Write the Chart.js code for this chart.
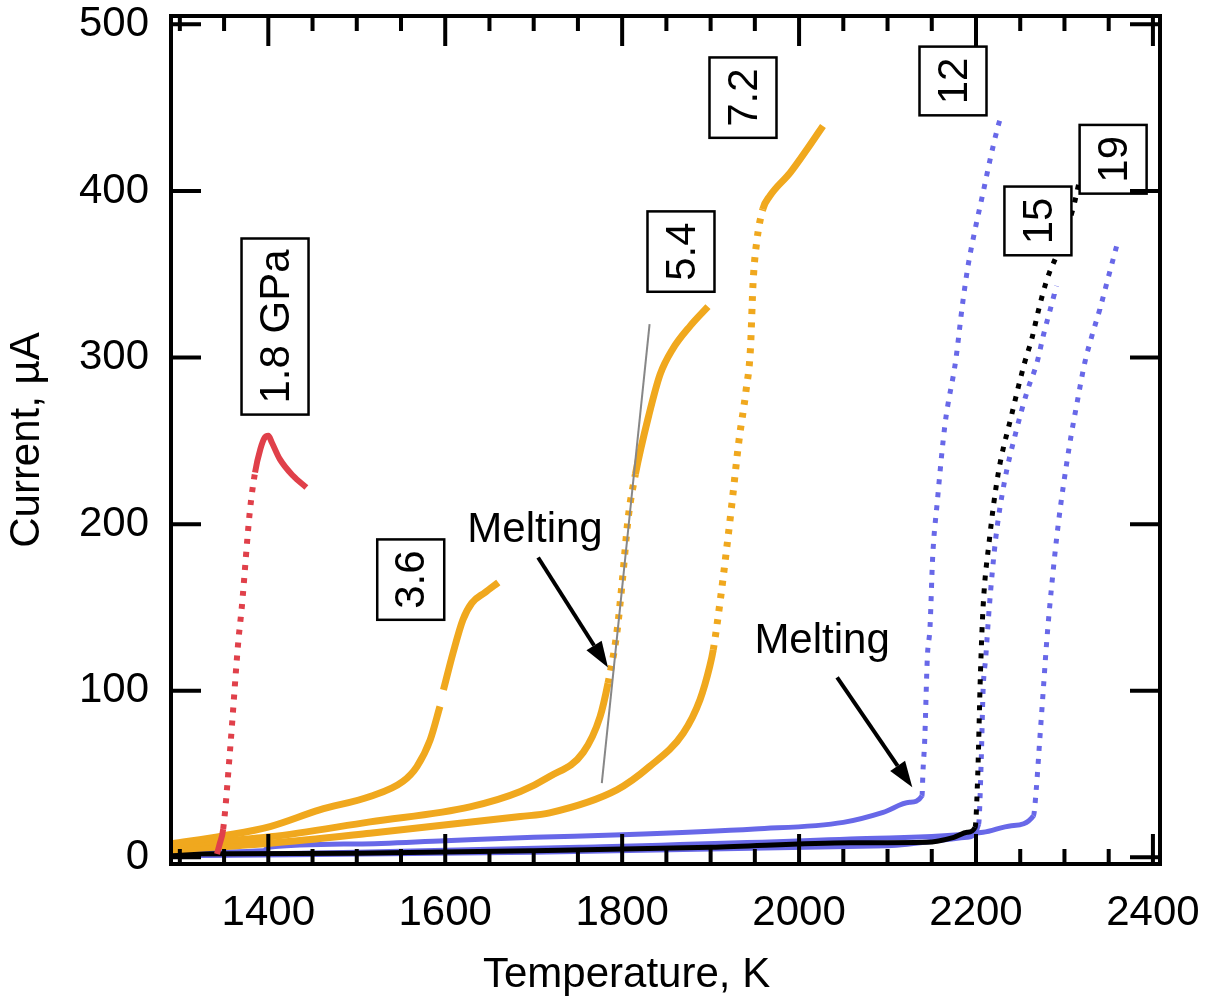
<!DOCTYPE html>
<html>
<head>
<meta charset="utf-8">
<script src="https://cdn.jsdelivr.net/npm/chart.js@4/dist/chart.umd.min.js"></script>
<style>
  html, body { margin: 0; padding: 0; background: #fff; }
  #wrap { width: 1207px; height: 1007px; }
</style>
</head>
<body>
<div id="wrap"><canvas id="myChart"></canvas></div>
<script>
const FONT = "'Liberation Sans', Arial, Helvetica, sans-serif";

// tick values
const xTicks = [1300, 1350, 1400, 1450, 1500, 1550, 1600, 1650, 1700, 1750, 1800, 1850,
                1900, 1950, 2000, 2050, 2100, 2150, 2200, 2250, 2300, 2350, 2400];
const xMajor = [1400, 1600, 1800, 2000, 2200, 2400];
const yTicks = [0, 100, 200, 300, 400, 500];

// 1.8 GPa
const redTemp = [1342, 1345, 1349, 1357, 1366, 1370, 1379, 1385, 1391, 1396, 1400, 1404, 1413, 1428, 1443];
const redCur  = [2, 8, 17, 66, 129, 150, 207, 231, 245, 252, 253, 249, 239, 229, 222];

// 3.6 GPa (small break near 1596 K)
const o36Temp = [1290, 1350, 1402, 1458, 1515, 1552, 1568, 1583, 1594, 1596, 1598, 1609, 1620, 1630, 1645, 1660];
const o36Cur  = [8, 13, 18.5, 28.5, 36.5, 45.5, 54.5, 70.5, 90.5, null, 100.5, 123, 142.6, 152.6, 159, 165];

// 5.4 GPa
const o54Temp = [1290, 1402, 1515, 1628, 1685, 1718, 1756, 1775, 1784, 1794, 1800, 1807, 1815, 1830, 1843, 1857, 1877, 1897];
const o54Cur  = [7.5, 12.3, 21.3, 30.3, 39.5, 48.5, 63, 84.4, 104.5, 134.8, 165, 204.5, 230, 265, 290, 305, 319, 330.5];

// 7.2 GPa
const o72Temp = [1290, 1402, 1515, 1685, 1718, 1794, 1831, 1869, 1888, 1899, 1903, 1911, 1918, 1924,
                 1932, 1940, 1945, 1948, 1952, 1959, 1967, 1990, 2009, 2027];
const o72Cur  = [4.5, 8.5, 14.5, 24.5, 26.7, 40.5, 54.5, 74.5, 94.6, 114.6, 124.6, 154.6, 184.7, 212,
                 250, 280, 305, 345, 369, 389, 397, 411, 425, 439];

// 12 GPa
const b12Temp = [1290, 1395, 1400, 1500, 1600, 1700, 1800, 1950, 2050, 2095, 2125, 2139, 2140, 2142,
                 2145, 2148, 2151, 2156, 2165, 2177, 2185, 2191, 2199, 2208, 2216, 2225, 2229];
const b12Cur  = [3, 4, 6, 8, 10, 12, 13.5, 17, 21, 27, 33, 37, 51, 70,
                 120, 138, 180, 212, 260, 298, 333, 355, 377, 399, 419, 439, 446];

// black run
const blkTemp = [1290, 1500, 1700, 1900, 2058, 2144, 2175, 2190, 2199, 2202, 2205, 2208, 2215, 2225,
                 2240, 2255, 2263, 2270, 2278, 2283, 2291, 2310, 2316];
const blkCur  = [2, 2.5, 4, 6, 8.7, 9, 12, 15, 18, 50, 110, 150, 190, 230,
                 265, 297, 311, 327, 343, 351, 361, 390, 404];

// middle blue run
const bMidTemp = [1290, 1700, 2100, 2190, 2203, 2206, 2208, 2211, 2215, 2222, 2232, 2245, 2258, 2269, 2276, 2283, 2291];
const bMidCur  = [1, 3, 7, 12, 20, 60, 100, 120, 150, 190, 225, 255, 280, 297, 313, 327, 343];

// right blue run
const bRgtTemp = [1290, 1500, 1752, 2058, 2208, 2240, 2265, 2268, 2272, 2276, 2280, 2285, 2293, 2305,
                  2315, 2323, 2331, 2340, 2349, 2359];
const bRgtCur  = [1, 3, 6, 11, 15, 19, 25, 40, 70, 100, 130, 160, 200, 245,
                  275, 297, 313, 329, 347, 367];

// grey guide line through the 5.4 GPa melting kink
const guideTemp = [1777, 1831];
const guideCur  = [44.6, 320];

// pressure labels (boxed, rotated)
const boxText = ['1.8 GPa', '3.6', '5.4', '7.2', '12', '15', '19'];
const boxTemp = [1407.6, 1561, 1866.5, 1936.6, 2174, 2270, 2355];
const boxCur  = [318.6, 166.7, 363.6, 456, 466, 382, 419];

// "Melting" notes and their arrows (from -> to)
const noteTemp = [1701.5, 2026];
const noteCur  = [196, 129.4];
const arrowFromTemp = [1705, 2043];
const arrowFromCur  = [180, 108];
const arrowToTemp   = [1784, 2128];
const arrowToCur    = [114, 42];

function toPoints(xs, ys) {
    return xs.map((x, i) => ({ x: x, y: ys[i] }));
}

// the original has sparse samples where a run climbs fast, which reads as dots
function dotWhenSteep(limit, dash) {
    return function(ctx) {
        const dx = Math.abs(ctx.p1.x - ctx.p0.x);
        const dy = Math.abs(ctx.p1.y - ctx.p0.y);
        return dy > limit * Math.max(dx, 0.5) ? dash : undefined;
    };
}

function run(xs, ys, color, width, limit) {
    return {
        data: toPoints(xs, ys),
        showLine: true,
        borderColor: color,
        backgroundColor: color,
        borderWidth: width,
        pointRadius: 0,
        cubicInterpolationMode: 'monotone',
        segment: { borderDash: dotWhenSteep(limit, [5, 8]) }
    };
}

const ORANGE = 'rgb(240, 168, 30)';
const RED = 'rgb(224, 64, 74)';
const BLUE = 'rgb(104, 104, 232)';

const datasets = [
    { data: toPoints(guideTemp, guideCur), showLine: true, borderColor: 'rgb(135,135,135)', borderWidth: 2, pointRadius: 0 },
    run(redTemp, redCur, RED, 6, 5),
    run(o36Temp, o36Cur, ORANGE, 7, 5),
    run(o54Temp, o54Cur, ORANGE, 7, 5),
    run(o72Temp, o72Cur, ORANGE, 7, 5),
    run(blkTemp, blkCur, '#000', 5, 2),
    run(b12Temp, b12Cur, BLUE, 5, 2),
    run(bMidTemp, bMidCur, BLUE, 5, 2),
    run(bRgtTemp, bRgtCur, BLUE, 5, 2)
];

function arrow(ctx, x0, y0, x1, y1) {
    const ang = Math.atan2(y1 - y0, x1 - x0);
    const head = 26, half = 9;
    const c = Math.cos(ang), s = Math.sin(ang);
    ctx.beginPath();
    ctx.moveTo(x0, y0);
    ctx.lineTo(x1 - head * c, y1 - head * s);
    ctx.lineWidth = 4;
    ctx.stroke();
    ctx.beginPath();
    ctx.moveTo(x1, y1);
    ctx.lineTo(x1 - head * c + half * s, y1 - head * s - half * c);
    ctx.lineTo(x1 - head * c - half * s, y1 - head * s + half * c);
    ctx.closePath();
    ctx.fill();
}

const notes = {
    id: 'notes',
    afterDatasetsDraw(chart) {
        const ctx = chart.ctx;
        const xs = chart.scales.x, ys = chart.scales.y;
        ctx.save();
        ctx.font = '42px ' + FONT;
        ctx.fillStyle = '#000';
        ctx.strokeStyle = '#000';

        boxText.forEach((txt, k) => {
            const px = xs.getPixelForValue(boxTemp[k]);
            const py = ys.getPixelForValue(boxCur[k]);
            const along = ctx.measureText(txt).width + 22;
            const across = 67;
            ctx.save();
            ctx.translate(px, py);
            ctx.rotate(-Math.PI / 2);
            ctx.fillStyle = '#fff';
            ctx.fillRect(-along / 2, -across / 2, along, across);
            ctx.lineWidth = 2.5;
            ctx.strokeRect(-along / 2, -across / 2, along, across);
            ctx.fillStyle = '#000';
            ctx.textAlign = 'center';
            ctx.textBaseline = 'middle';
            ctx.fillText(txt, 0, 2);
            ctx.restore();
        });

        ctx.textAlign = 'center';
        ctx.textBaseline = 'middle';
        noteTemp.forEach((t, k) => {
            ctx.fillText('Melting', xs.getPixelForValue(t), ys.getPixelForValue(noteCur[k]));
        });

        arrowFromTemp.forEach((t, k) => {
            arrow(ctx,
                xs.getPixelForValue(t), ys.getPixelForValue(arrowFromCur[k]),
                xs.getPixelForValue(arrowToTemp[k]), ys.getPixelForValue(arrowToCur[k]));
        });

        // x axis title sits a little left of centre in the original
        ctx.fillText('Temperature, K', xs.getPixelForValue(1805), 975);
        ctx.restore();
    }
};

// closed frame with inward ticks on all four sides
const frame = {
    id: 'frame',
    afterDraw(chart) {
        const ctx = chart.ctx;
        const a = chart.chartArea;
        const xs = chart.scales.x, ys = chart.scales.y;
        ctx.save();
        ctx.strokeStyle = '#000';
        ctx.lineWidth = 4;
        ctx.beginPath();
        xTicks.forEach(v => {
            const px = xs.getPixelForValue(v);
            const len = xMajor.includes(v) ? 30 : 15;
            ctx.moveTo(px, a.bottom);
            ctx.lineTo(px, a.bottom - len);
            ctx.moveTo(px, a.top);
            ctx.lineTo(px, a.top + len);
        });
        yTicks.forEach(v => {
            const py = ys.getPixelForValue(v);
            ctx.moveTo(a.left, py);
            ctx.lineTo(a.left + 30, py);
            ctx.moveTo(a.right, py);
            ctx.lineTo(a.right - 30, py);
        });
        ctx.stroke();
        ctx.strokeRect(a.left, a.top, a.right - a.left, a.bottom - a.top);
        ctx.restore();
    }
};

const config = {
    type: 'scatter',
    data: { datasets: datasets },
    options: {
        responsive: true,
        maintainAspectRatio: false,
        animation: false,
        events: [],
        layout: { padding: { left: 0, top: 16, right: 47, bottom: 0 } },
        plugins: { legend: { display: false }, tooltip: { enabled: false } },
        scales: {
            x: {
                type: 'linear',
                min: 1290,
                max: 2408,
                afterBuildTicks: (scale) => { scale.ticks = xTicks.map(v => ({ value: v })); },
                afterFit: (scale) => {
                    scale.height = 143;
                    scale.paddingLeft = 0;
                    scale.paddingRight = 0;
                },
                grid: { display: false, drawTicks: false },
                border: { display: false },
                ticks: {
                    autoSkip: false,
                    maxRotation: 0,
                    padding: 24,
                    color: '#000',
                    font: { family: FONT, size: 42 },
                    callback: (v) => xMajor.includes(v) ? String(v) : ''
                }
            },
            y: {
                type: 'linear',
                min: -4,
                max: 505,
                afterBuildTicks: (scale) => { scale.ticks = yTicks.map(v => ({ value: v })); },
                afterFit: (scale) => {
                    scale.width = 171;
                    scale.paddingTop = 0;
                    scale.paddingBottom = 0;
                },
                grid: { display: false, drawTicks: false },
                border: { display: false },
                ticks: {
                    padding: 22,
                    color: '#000',
                    font: { family: FONT, size: 42 }
                },
                title: {
                    display: true,
                    text: 'Current, µA',
                    color: '#000',
                    font: { family: FONT, size: 42 },
                    padding: { top: 2, bottom: 0 }
                }
            }
        }
    },
    plugins: [notes, frame]
};

const myChart = new Chart(document.getElementById('myChart'), config);
</script>
</body>
</html>
